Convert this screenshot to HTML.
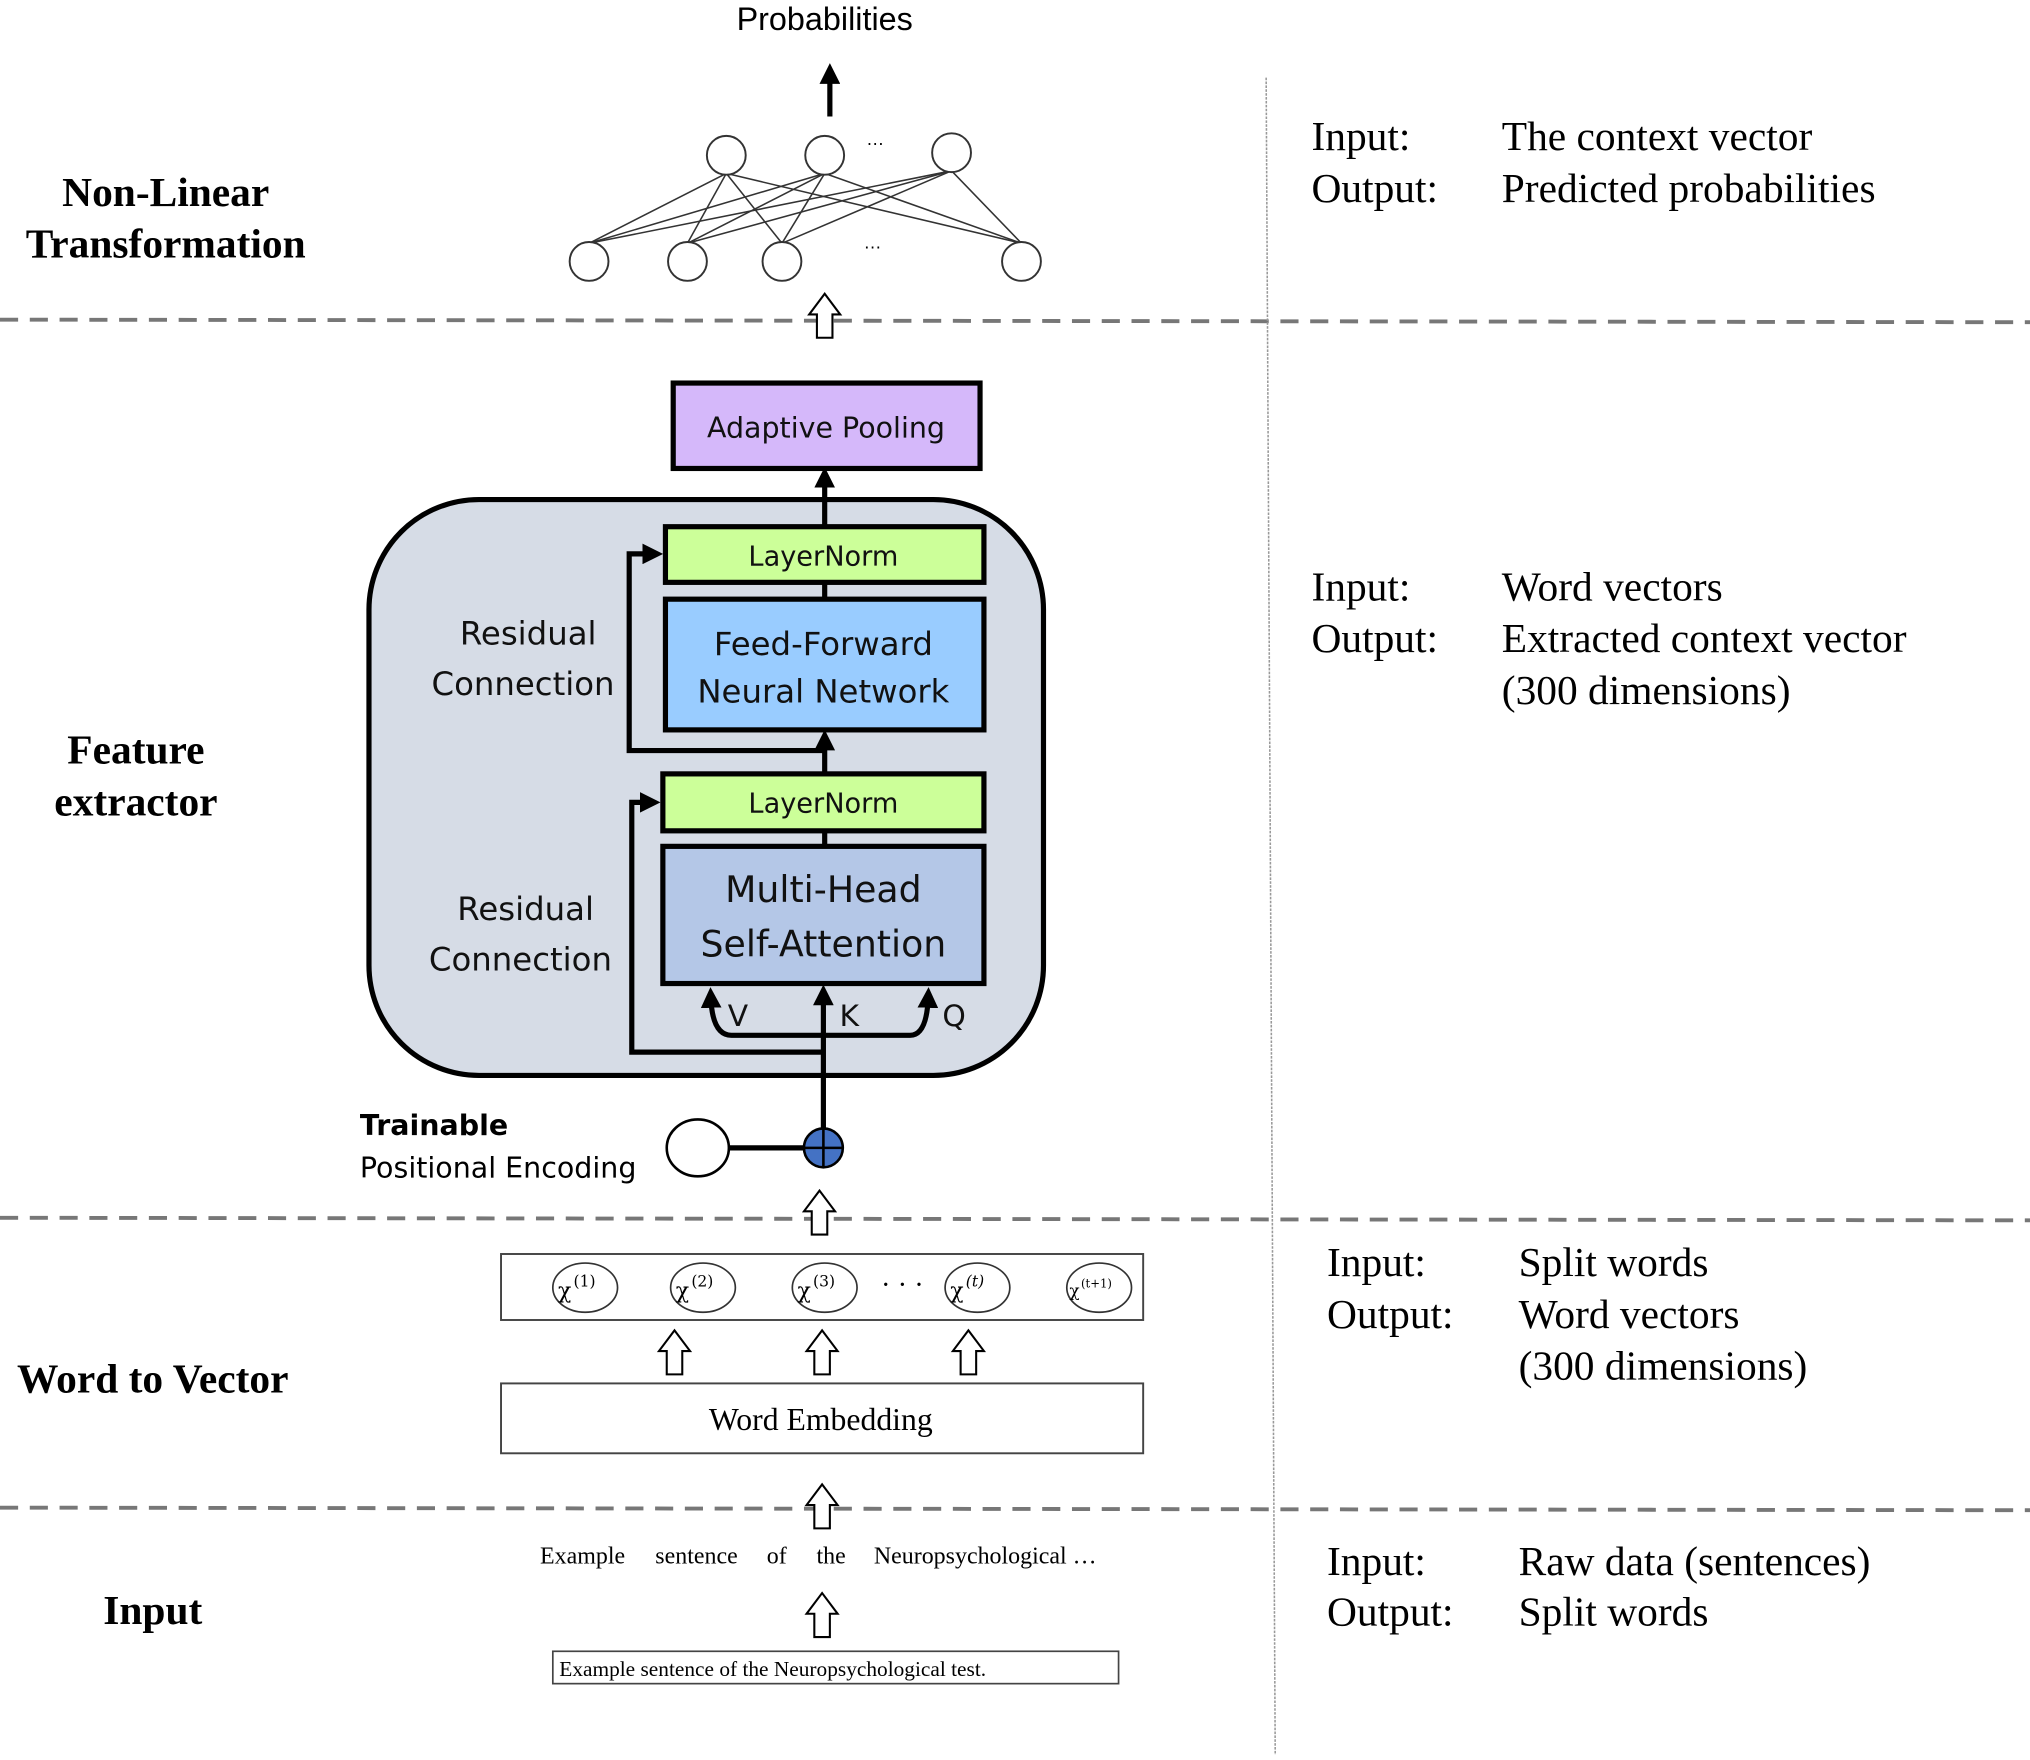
<!DOCTYPE html>
<html><head><meta charset="utf-8"><style>html,body{margin:0;padding:0;background:#fff}svg{display:block}</style></head>
<body>
<svg width="2030" height="1760" viewBox="0 0 1568 1360" preserveAspectRatio="none" xmlns="http://www.w3.org/2000/svg">
<defs>
<marker id="ah" markerWidth="4" markerHeight="4" refX="2.2" refY="2" orient="auto" markerUnits="strokeWidth"><path d="M0,0 L4,2 L0,4 z" fill="#000"/></marker>
<g id="ha"><path d="M-6,18 L-6,0 L-12,0 L0,-16 L12,0 L6,0 L6,18 Z" fill="#fff" stroke="#000" stroke-width="1.6"/></g>
</defs>
<rect width="1568" height="1360" fill="#fff"/>
<g font-family="Liberation Sans, sans-serif">
<text x="637" y="23" font-size="25" text-anchor="middle">Probabilities</text>
</g>
<line x1="641" y1="90" x2="641" y2="56" stroke="#000" stroke-width="4" marker-end="url(#ah)"/>
<g stroke="#333" stroke-width="1.2">
<line x1="455" y1="188" x2="561" y2="134"/><line x1="455" y1="188" x2="637" y2="134"/><line x1="455" y1="188" x2="735" y2="132"/>
<line x1="531" y1="188" x2="561" y2="134"/><line x1="531" y1="188" x2="637" y2="134"/><line x1="531" y1="188" x2="735" y2="132"/>
<line x1="604" y1="188" x2="561" y2="134"/><line x1="604" y1="188" x2="637" y2="134"/><line x1="604" y1="188" x2="735" y2="132"/>
<line x1="789" y1="188" x2="561" y2="134"/><line x1="789" y1="188" x2="637" y2="134"/><line x1="789" y1="188" x2="735" y2="132"/>
</g>
<g fill="#fff" stroke="#333" stroke-width="1.5">
<circle cx="561" cy="120" r="15"/><circle cx="637" cy="120" r="15"/><circle cx="735" cy="118" r="15"/>
<circle cx="455" cy="202" r="15"/><circle cx="531" cy="202" r="15"/><circle cx="604" cy="202" r="15"/><circle cx="789" cy="202" r="15"/>
</g>
<text x="676" y="112" font-size="14" text-anchor="middle" font-family="Liberation Sans, sans-serif">…</text>
<text x="674" y="192" font-size="14" text-anchor="middle" font-family="Liberation Sans, sans-serif">…</text>
<g stroke="#777" stroke-width="3" stroke-dasharray="14 9">
<line x1="0" y1="247" x2="1568" y2="249"/>
<line x1="0" y1="941" x2="1568" y2="943"/>
<line x1="0" y1="1165" x2="1568" y2="1167"/>
</g>
<line x1="978" y1="60" x2="985" y2="1356" stroke="#999" stroke-width="1.2" stroke-dasharray="2 1"/>
<use href="#ha" x="637" y="243"/>
<g font-family="Liberation Serif, serif" font-weight="bold" font-size="32" text-anchor="middle">
<text x="128" y="159">Non-Linear</text>
<text x="128" y="199">Transformation</text>
<text x="105" y="590">Feature</text>
<text x="105" y="630">extractor</text>
<text x="118" y="1076">Word to Vector</text>
<text x="118" y="1255">Input</text>
</g>
<g font-family="Liberation Serif, serif" font-size="32">
<text x="1013" y="116">Input:</text><text x="1160" y="116">The context vector</text>
<text x="1013" y="156">Output:</text><text x="1160" y="156">Predicted probabilities</text>
<text x="1013" y="464">Input:</text><text x="1160" y="464">Word vectors</text>
<text x="1013" y="504">Output:</text><text x="1160" y="504">Extracted context vector</text>
<text x="1160" y="544">(300 dimensions)</text>
<text x="1025" y="986">Input:</text><text x="1173" y="986">Split words</text>
<text x="1025" y="1026">Output:</text><text x="1173" y="1026">Word vectors</text>
<text x="1173" y="1066">(300 dimensions)</text>
<text x="1025" y="1217">Input:</text><text x="1173" y="1217">Raw data (sentences)</text>
<text x="1025" y="1256">Output:</text><text x="1173" y="1256">Split words</text>
</g>
<rect x="285" y="386" width="521" height="445" rx="85" fill="#d6dce6" stroke="#000" stroke-width="4"/>
<rect x="520" y="296" width="237" height="66" fill="#d5b8fa" stroke="#000" stroke-width="4"/>
<line x1="637" y1="407" x2="637" y2="368" stroke="#000" stroke-width="4" marker-end="url(#ah)"/>
<rect x="514" y="407" width="246" height="43" fill="#ccff99" stroke="#000" stroke-width="4"/>
<line x1="637" y1="450" x2="637" y2="463" stroke="#000" stroke-width="4"/>
<rect x="514" y="463" width="246" height="101" fill="#99ccff" stroke="#000" stroke-width="4"/>
<line x1="637" y1="598" x2="637" y2="571" stroke="#000" stroke-width="4" marker-end="url(#ah)"/>
<polyline points="637,580 486,580 486,428 505,428" fill="none" stroke="#000" stroke-width="4" marker-end="url(#ah)"/>
<rect x="512" y="598" width="248" height="44" fill="#ccff99" stroke="#000" stroke-width="4"/>
<line x1="637" y1="642" x2="637" y2="654" stroke="#000" stroke-width="4"/>
<rect x="512" y="654" width="248" height="106" fill="#b4c7e7" stroke="#000" stroke-width="4"/>
<polyline points="637,813 488,813 488,620 503,620" fill="none" stroke="#000" stroke-width="4" marker-end="url(#ah)"/>
<line x1="636" y1="887" x2="636" y2="768" stroke="#000" stroke-width="4" marker-end="url(#ah)"/>
<path d="M636,800 L565,800 Q550,800 549,770" fill="none" stroke="#000" stroke-width="4" marker-end="url(#ah)"/>
<path d="M636,800 L703,800 Q716,800 717,770" fill="none" stroke="#000" stroke-width="4" marker-end="url(#ah)"/>
<g font-family="DejaVu Sans, Liberation Sans, sans-serif" text-anchor="middle" fill="#111">
<text x="638" y="338" font-size="22">Adaptive Pooling</text>
<text x="636" y="437" font-size="21">LayerNorm</text>
<text x="636" y="506" font-size="25">Feed-Forward</text>
<text x="636" y="543" font-size="25">Neural Network</text>
<text x="636" y="628" font-size="21">LayerNorm</text>
<text x="636" y="697" font-size="28">Multi-Head</text>
<text x="636" y="739" font-size="28">Self-Attention</text>
<text x="408" y="498" font-size="25">Residual</text>
<text x="404" y="537" font-size="25">Connection</text>
<text x="406" y="711" font-size="25">Residual</text>
<text x="402" y="750" font-size="25">Connection</text>
<text x="570" y="793" font-size="23">V</text>
<text x="656" y="793" font-size="23">K</text>
<text x="737" y="793" font-size="23">Q</text>
</g>
<g font-family="DejaVu Sans, Liberation Sans, sans-serif" font-size="22">
<text x="278" y="877" font-weight="bold">Trainable</text>
<text x="278" y="910">Positional Encoding</text>
</g>
<line x1="560" y1="887" x2="622" y2="887" stroke="#000" stroke-width="4"/>
<ellipse cx="539" cy="887" rx="24" ry="22" fill="#fff" stroke="#000" stroke-width="2"/>
<circle cx="636" cy="887" r="15" fill="#4472c4" stroke="#000" stroke-width="2"/>
<line x1="621" y1="887" x2="651" y2="887" stroke="#000" stroke-width="2"/>
<line x1="636" y1="872" x2="636" y2="902" stroke="#000" stroke-width="2"/>
<use href="#ha" x="633" y="936"/>
<rect x="387" y="969" width="496" height="51" fill="#fff" stroke="#444" stroke-width="1.5"/>
<g fill="#fff" stroke="#333" stroke-width="1.3">
<ellipse cx="452" cy="995" rx="25" ry="19"/><ellipse cx="543" cy="995" rx="25" ry="19"/><ellipse cx="637" cy="995" rx="25" ry="19"/><ellipse cx="755" cy="995" rx="25" ry="19"/><ellipse cx="849" cy="995" rx="25" ry="19"/>
</g>
<g font-family="DejaVu Serif, serif" font-size="17">
<text x="431" y="1003">χ</text><text x="443" y="994" font-size="12">(1)</text>
<text x="522" y="1003">χ</text><text x="534" y="994" font-size="12">(2)</text>
<text x="616" y="1003">χ</text><text x="628" y="994" font-size="12">(3)</text>
<text x="734" y="1003">χ</text><text x="746" y="994" font-size="12" font-style="italic">(t)</text>
<text x="826" y="1002" font-size="13">χ</text><text x="835" y="995" font-size="9">(t+1)</text>
</g>
<text x="697" y="1000" font-size="22" text-anchor="middle" font-family="Liberation Serif, serif">· · ·</text>
<use href="#ha" x="521" y="1044"/><use href="#ha" x="635" y="1044"/><use href="#ha" x="748" y="1044"/>
<rect x="387" y="1069" width="496" height="54" fill="#fff" stroke="#444" stroke-width="1.5"/>
<text x="634" y="1105" font-size="24.5" text-anchor="middle" font-family="Liberation Serif, serif">Word Embedding</text>
<use href="#ha" x="635" y="1163"/>
<g font-family="Liberation Serif, serif" font-size="18.5" text-anchor="middle">
<text x="450" y="1208">Example</text><text x="538" y="1208">sentence</text><text x="600" y="1208">of</text><text x="642" y="1208">the</text><text x="761" y="1208">Neuropsychological …</text>
</g>
<use href="#ha" x="635" y="1247"/>
<rect x="427" y="1276" width="437" height="25" fill="#fff" stroke="#444" stroke-width="1.3"/>
<text x="432" y="1295" font-size="16.5" font-family="Liberation Serif, serif">Example sentence of the Neuropsychological test.</text>
</svg>
</body></html>
